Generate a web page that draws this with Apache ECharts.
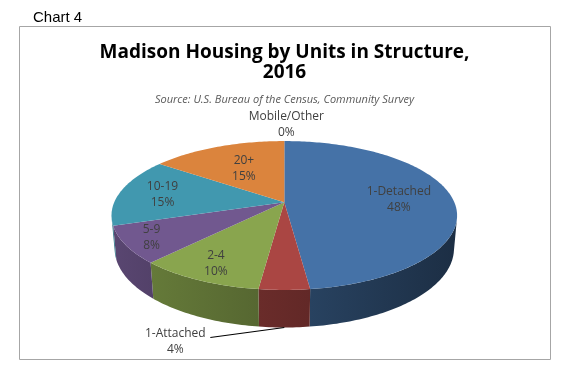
<!DOCTYPE html>
<html><head><meta charset="utf-8">
<script src="https://cdn.jsdelivr.net/npm/echarts@6/dist/echarts.min.js"></script>
<style>html,body{margin:0;padding:0;background:#fff}#c{width:569px;height:374px}</style>
</head><body><div id="c"></div>
<script>
// ---- data ----
const categories = ['1-Detached', '1-Attached', '2-4', '5-9', '10-19', '20+', 'Mobile/Other'];
const percents = [48, 4, 10, 8, 15, 15, 0];
const titleText = 'Madison Housing by Units in Structure,\n2016';
const subtitleText = 'Source: U.S. Bureau of the Census, Community Survey';
const captionText = 'Chart 4';

// ---- styles / layout ----
const topColors = ['#4572A7', '#AA4643', '#89A54E', '#71588F', '#4198AF', '#DB843D', '#A0A0A0'];
const labelPlacement = [
  { r: 0.68 }, { outside: 'front' }, { r: 0.82 }, { r: 0.85 }, { r: 0.74 }, { r: 0.57 }, { outside: 'back' }
];
const FONT = '"Open Sans", sans-serif';
const P = { cx: 284.3, cy: 202.3, k: 869, D: 5.11, sa: 0.424, ca: 0.906, h: 0.215 };

function proj(theta, r, Y) {
  const X = r * Math.sin(theta), Z = -r * Math.cos(theta);
  const depth = P.D - Z * P.ca - Y * P.sa;
  const yc = Y * P.ca - Z * P.sa;
  return [P.cx + P.k * X / depth, P.cy - P.k * yc / depth];
}
function shade(hex, f) {
  const n = parseInt(hex.slice(1), 16);
  const r = Math.round(((n >> 16) & 255) * f), g = Math.round(((n >> 8) & 255) * f), b = Math.round((n & 255) * f);
  return 'rgb(' + r + ',' + g + ',' + b + ')';
}
// side lighting: lighter on the left, darker on the right
function light(theta) { return 0.6 - 0.2 * Math.sin(theta); }
const total = percents.reduce((a, b) => a + b, 0);
const cum = [];
percents.reduce((a, v, i) => { cum[i] = a; return a + v; }, 0);
const silLim = Math.acos(-1 / (P.D * P.ca)); // silhouette angle
const silA = silLim, silB = 2 * Math.PI - silLim;

function arcPts(a, b, r, Y) {
  const pts = [];
  const n = Math.max(2, Math.ceil((b - a) / (Math.PI / 180)));
  for (let j = 0; j <= n; j++) pts.push(proj(a + (b - a) * j / n, r, Y));
  return pts;
}

const chart = echarts.init(document.getElementById('c'), null, { renderer: 'canvas' });
chart.setOption({
  backgroundColor: '#fff',
  animation: false,
  title: {
    text: titleText,
    subtext: subtitleText,
    left: 'center',
    top: 38,
    itemGap: 11,
    textStyle: { fontFamily: FONT, fontWeight: 'bold', fontSize: 19, lineHeight: 20, color: '#000' },
    subtextStyle: { fontFamily: FONT, fontStyle: 'italic', fontSize: 11, color: '#595959' }
  },
  graphic: [
    { type: 'rect', shape: { x: 19.5, y: 26.5, width: 531, height: 333 }, style: { fill: 'none', stroke: '#A6A6A6', lineWidth: 1 }, z: -1 },
    { type: 'text', x: 33, y: 10, style: { text: captionText, font: '15px "Liberation Sans", Arial, sans-serif', fill: '#000' } }
  ],
  series: [{
    type: 'custom',
    coordinateSystem: 'none',
    data: percents.map((v, i) => [i, v]),
    renderItem: function (params, api) {
      const i = params.dataIndex;
      const v = api.value(1);
      const a0 = cum[i] / total * 2 * Math.PI;
      const a1 = a0 + v / total * 2 * Math.PI;
      const children = [];
      const col = topColors[i];
      if (v > 0) {
        const a = Math.max(a0, silA), b = Math.min(a1, silB);
        if (b > a) {
          const top = arcPts(a, b, 1, 0);
          const bot = arcPts(a, b, 1, -P.h).reverse();
          children.push({
            type: 'polygon', z2: 1,
            shape: { points: top.concat(bot) },
            style: {
              fill: { type: 'linear', x: 0, y: 0, x2: 1, y2: 0, colorStops: [
                { offset: 0, color: shade(col, light(b)) }, { offset: 1, color: shade(col, light(a)) } ] }
            }
          });
        }
        const pts = [proj(0, 0, 0)].concat(arcPts(a0, a1, 1, 0));
        children.push({ type: 'polygon', z2: 10, shape: { points: pts }, style: { fill: col } });
      }
      const txt = categories[i] + '\n' + v + '%';
      const lp = labelPlacement[i];
      const mid = (a0 + a1) / 2;
      const tstyle = { text: txt, font: '12px ' + FONT, fill: '#404040', align: 'center', verticalAlign: 'middle', lineHeight: 16 };
      if (lp.r) {
        const p = proj(mid, lp.r, 0);
        children.push({ type: 'text', z2: 20, x: p[0], y: p[1], style: tstyle });
      } else if (lp.outside === 'front') {
        const e = proj(mid, 1, -P.h);
        children.push({ type: 'polyline', z2: 20, shape: { points: [e, [e[0] - 74, e[1] + 10]] }, style: { stroke: '#000', lineWidth: 1.2, fill: null } });
        children.push({ type: 'text', z2: 20, x: e[0] - 109, y: e[1] + 14, style: tstyle });
      } else {
        const e = proj(mid, 1, 0);
        children.push({ type: 'text', z2: 20, x: e[0] + 2, y: e[1] - 16, style: tstyle });
      }
      return { type: 'group', children: children };
    }
  }]
});
</script></body></html>
